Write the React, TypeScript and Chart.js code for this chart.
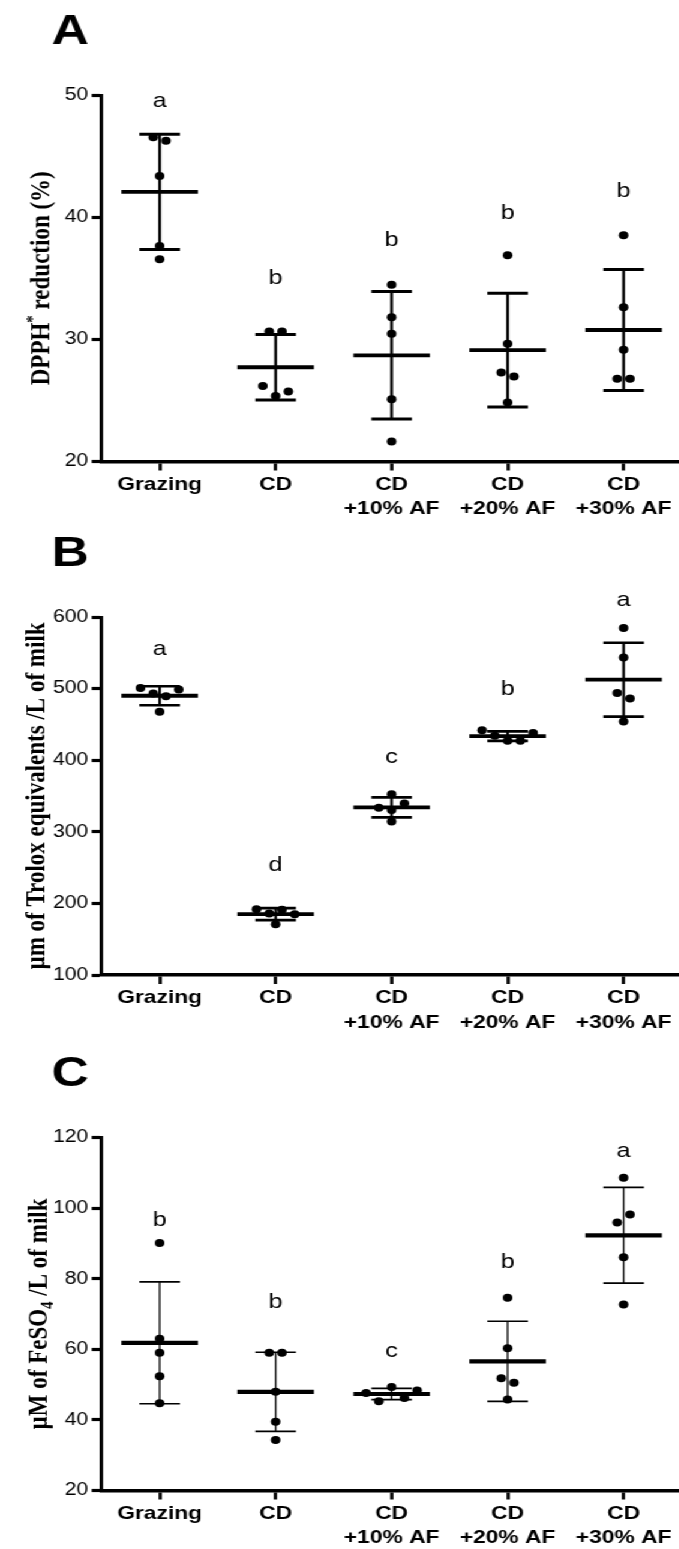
import React, { useEffect, useRef } from 'react';
import { Chart, registerables } from 'chart.js';

Chart.register(...registerables);

// ---------------- data ----------------
const categories: string[][] = [
  ['Grazing'],
  ['CD'],
  ['CD', '+10% AF'],
  ['CD', '+20% AF'],
  ['CD', '+30% AF'],
];

// Panel A: DPPH* reduction (%)
const grazingA = [46.54, 46.26, 43.37, 37.65, 36.56];
const cdA = [30.64, 30.64, 26.19, 25.37, 25.73];
const cd10A = [34.46, 31.81, 30.45, 25.1, 21.64];
const cd20A = [36.88, 29.63, 27.28, 26.96, 24.83];
const cd30A = [38.52, 32.63, 29.14, 26.77, 26.77];
const lettersA = ['a', 'b', 'b', 'b', 'b'];
const letterValA = [49.05, 34.54, 37.67, 39.86, 41.63];
const ticksA = { min: 20, max: 50, step: 10 };

// Panel B: µm of Trolox equivalents / L of milk
const grazingB = [501.0, 493.1, 489.4, 498.8, 467.7];
const cdB = [192, 186, 191, 185, 171];
const cd10B = [352.5, 333.6, 330.4, 339.6, 314.3];
const cd20B = [442, 434, 427, 427, 438];
const cd30B = [584.8, 543.3, 494, 486.2, 454];
const lettersB = ['a', 'd', 'c', 'b', 'a'];
const letterValB = [547, 245, 396.3, 491.7, 615.2];
const ticksB = { min: 100, max: 600, step: 100 };

// Panel C: µM of FeSO4 / L of milk
const grazingC = [90.1, 63.0, 59.0, 52.4, 44.7];
const cdC = [59.0, 59.0, 48.0, 39.5, 34.3];
const cd10C = [47.6, 45.3, 49.3, 46.2, 48.3];
const cd20C = [74.6, 60.3, 51.8, 50.5, 45.8];
const cd30C = [108.6, 95.9, 98.2, 86.1, 72.7];
const lettersC = ['b', 'b', 'c', 'b', 'a'];
const letterValC = [94.94, 71.7, 57.8, 83.0, 114.5];
const ticksC = { min: 20, max: 120, step: 20 };

// ---------------- layout / style ----------------
const SX = 1.2; // the figure is horizontally stretched
const CANVAS_W = 572;
const SANS = "'Liberation Sans', Arial, Helvetica, sans-serif";
const SERIF = "'Liberation Serif', 'Times New Roman', Times, serif";

type Seg = { t: string; sup?: boolean; sub?: boolean };

interface Panel {
  key: string;
  letter: string;
  groups: number[][];
  min: number;
  max: number;
  step: number;
  sig: string[];
  sigVal: number[];
  title: Seg[];
  height: number;
  padTop: number;
  areaBottom: number;
  titleOffset: number;
  meanW: number;
  capW: number;
  whiskerW: number;
}

const panels: Panel[] = [
  {
    key: 'A', letter: 'A',
    groups: [grazingA, cdA, cd10A, cd20A, cd30A],
    min: ticksA.min, max: ticksA.max, step: ticksA.step,
    sig: lettersA, sigVal: letterValA,
    title: [{ t: 'DPPH' }, { t: '*', sup: true }, { t: ' reduction (%)' }],
    height: 530, padTop: 95, areaBottom: 461.5, titleOffset: 51.4,
    meanW: 3.8, capW: 3, whiskerW: 2.3,
  },
  {
    key: 'B', letter: 'B',
    groups: [grazingB, cdB, cd10B, cd20B, cd30B],
    min: ticksB.min, max: ticksB.max, step: ticksB.step,
    sig: lettersB, sigVal: letterValB,
    title: [{ t: 'µm of Trolox equivalents /L of milk' }],
    height: 520, padTop: 87, areaBottom: 445, titleOffset: 55.5,
    meanW: 3.8, capW: 2.7, whiskerW: 2.2,
  },
  {
    key: 'C', letter: 'C',
    groups: [grazingC, cdC, cd10C, cd20C, cd30C],
    min: ticksC.min, max: ticksC.max, step: ticksC.step,
    sig: lettersC, sigVal: letterValC,
    title: [{ t: 'µM of FeSO' }, { t: '4', sub: true }, { t: ' /L of milk' }],
    height: 499, padTop: 87.5, areaBottom: 440.5, titleOffset: 53.4,
    meanW: 4.2, capW: 1.6, whiskerW: 1.3,
  },
];

function stats(vals: number[]) {
  const n = vals.length;
  const mean = vals.reduce((a, b) => a + b, 0) / n;
  const sd = Math.sqrt(vals.reduce((a, b) => a + (b - mean) * (b - mean), 0) / (n - 1));
  return { mean, sd };
}

// spread overlapping dots sideways (scatter dot plot)
function spread(values: number[], thr: number, d: number): number[] {
  const idx = values.map((_, i) => i).sort((a, b) => values[a] - values[b]);
  const off = new Array(values.length).fill(0);
  let cluster: number[] = [idx[0]];
  const flush = () => {
    const members = [...cluster].sort((a, b) => a - b);
    const n = members.length;
    members.forEach((m, k) => { off[m] = (k - (n - 1) / 2) * d; });
  };
  for (let k = 1; k < idx.length; k++) {
    if (values[idx[k]] - values[idx[k - 1]] < thr) cluster.push(idx[k]);
    else { flush(); cluster = [idx[k]]; }
  }
  flush();
  return off;
}

function makePlugin(p: Panel) {
  return {
    id: 'panelDecor' + p.key,
    beforeDatasetsDraw(chart: any) {
      const { ctx } = chart;
      const x = chart.scales.x;
      const y = chart.scales.y;
      const cat = x.getPixelForValue(1) - x.getPixelForValue(0);
      ctx.save();
      ctx.strokeStyle = '#000';
      ctx.lineCap = 'butt';
      const line = (x1: number, y1: number, x2: number, y2: number) => {
        ctx.beginPath(); ctx.moveTo(x1, y1); ctx.lineTo(x2, y2); ctx.stroke();
      };
      p.groups.forEach((vals, i) => {
        const { mean, sd } = stats(vals);
        const cx = x.getPixelForValue(i);
        const yM = y.getPixelForValue(mean);
        const yT = y.getPixelForValue(mean + sd);
        const yB = y.getPixelForValue(mean - sd);
        ctx.lineWidth = p.whiskerW;
        line(cx, yT, cx, yB);
        ctx.lineWidth = p.capW;
        line(cx - cat * 0.175, yT, cx + cat * 0.175, yT);
        line(cx - cat * 0.175, yB, cx + cat * 0.175, yB);
        ctx.lineWidth = p.meanW;
        line(cx - cat * 0.33, yM, cx + cat * 0.33, yM);
      });
      ctx.restore();
    },
    afterDraw(chart: any) {
      const { ctx, chartArea } = chart;
      const x = chart.scales.x;
      const y = chart.scales.y;
      ctx.save();
      ctx.fillStyle = '#000';
      // significance letters
      ctx.font = `21px ${SANS}`;
      ctx.textAlign = 'center';
      ctx.textBaseline = 'alphabetic';
      p.sig.forEach((s, i) => {
        ctx.fillText(s, x.getPixelForValue(i), y.getPixelForValue(p.sigVal[i]));
      });
      // panel letter
      ctx.font = `bold 43px ${SANS}`;
      ctx.textAlign = 'left';
      ctx.fillText(p.letter, 43, chartArea.top - 51.5);
      // y axis title
      const base = 23;
      const fontFor = (s: Seg) => `bold ${s.sup || s.sub ? 15 : base}px ${SERIF}`;
      let total = 0;
      p.title.forEach((s) => { ctx.font = fontFor(s); total += ctx.measureText(s.t).width; });
      ctx.translate(chartArea.left - p.titleOffset, (chartArea.top + chartArea.bottom) / 2);
      ctx.rotate(-Math.PI / 2);
      let tx = -total / 2;
      const baseY = 0.662 * base / 2;
      p.title.forEach((s) => {
        ctx.font = fontFor(s);
        const dy = s.sup ? -9 : s.sub ? 5 : 0;
        ctx.fillText(s.t, tx, baseY + dy);
        tx += ctx.measureText(s.t).width;
      });
      ctx.restore();
    },
  };
}

function makeChart(canvas: HTMLCanvasElement, p: Panel) {
  const thr = ((p.max - p.min) * 8.8) / 360;
  const points = p.groups.flatMap((vals, gi) => {
    const off = spread(vals, thr, 0.11);
    return vals.map((v, k) => ({ x: gi + off[k], y: v }));
  });
  return new Chart(canvas, {
    type: 'scatter',
    data: {
      datasets: [
        {
          data: points,
          pointRadius: 4,
          pointHoverRadius: 4,
          pointBackgroundColor: '#000',
          pointBorderColor: '#000',
          pointBorderWidth: 0,
          backgroundColor: '#000',
          borderColor: '#000',
        },
      ],
    },
    options: {
      responsive: false,
      animation: false,
      devicePixelRatio: 1,
      events: [],
      layout: { padding: { top: p.padTop, right: 1.2, left: 0, bottom: 0 } },
      plugins: { legend: { display: false }, tooltip: { enabled: false } },
      scales: {
        x: {
          type: 'linear',
          min: -0.5,
          max: 4.5,
          afterBuildTicks: (s: any) => {
            s.ticks = categories.map((_, i) => ({ value: i }));
          },
          afterFit: (s: any) => {
            s.height = p.height - p.areaBottom;
          },
          grid: {
            drawOnChartArea: false,
            drawTicks: true,
            tickLength: 9,
            tickWidth: 2.7,
            tickColor: '#000',
          },
          border: { display: true, color: '#000', width: 3.5 },
          ticks: {
            autoSkip: false,
            maxRotation: 0,
            minRotation: 0,
            padding: 2,
            color: '#000',
            font: { family: SANS, size: 19, weight: 'bold', lineHeight: 1.29 },
            callback: (v: any) => categories[Math.round(Number(v))] ?? '',
          },
        },
        y: {
          type: 'linear',
          min: p.min,
          max: p.max,
          afterFit: (s: any) => {
            s.width = 84.7;
          },
          grid: {
            drawOnChartArea: false,
            drawTicks: true,
            tickLength: 8.3,
            tickWidth: 3.2,
            tickColor: '#000',
          },
          border: { display: true, color: '#000', width: 2.9 },
          ticks: {
            stepSize: p.step,
            padding: 3,
            color: '#000',
            font: { family: SANS, size: 17.5 },
          },
        },
      },
    } as any,
    plugins: [makePlugin(p)],
  });
}

export default function App() {
  const r0 = useRef<HTMLCanvasElement>(null);
  const r1 = useRef<HTMLCanvasElement>(null);
  const r2 = useRef<HTMLCanvasElement>(null);
  const refs = [r0, r1, r2];

  useEffect(() => {
    const charts = panels.map((p, i) => makeChart(refs[i].current as HTMLCanvasElement, p));
    return () => charts.forEach((c) => c.destroy());
  }, []);

  return (
    <div
      style={{
        position: 'absolute',
        left: 0,
        top: 0,
        width: 679,
        height: 1549,
        overflow: 'hidden',
        background: '#fff',
      }}
    >
      <div style={{ width: CANVAS_W, transform: `scaleX(${SX})`, transformOrigin: '0 0' }}>
        {panels.map((p, i) => (
          <canvas
            key={p.key}
            ref={refs[i]}
            width={CANVAS_W}
            height={p.height}
            style={{ display: 'block', width: CANVAS_W, height: p.height }}
          />
        ))}
      </div>
    </div>
  );
}
